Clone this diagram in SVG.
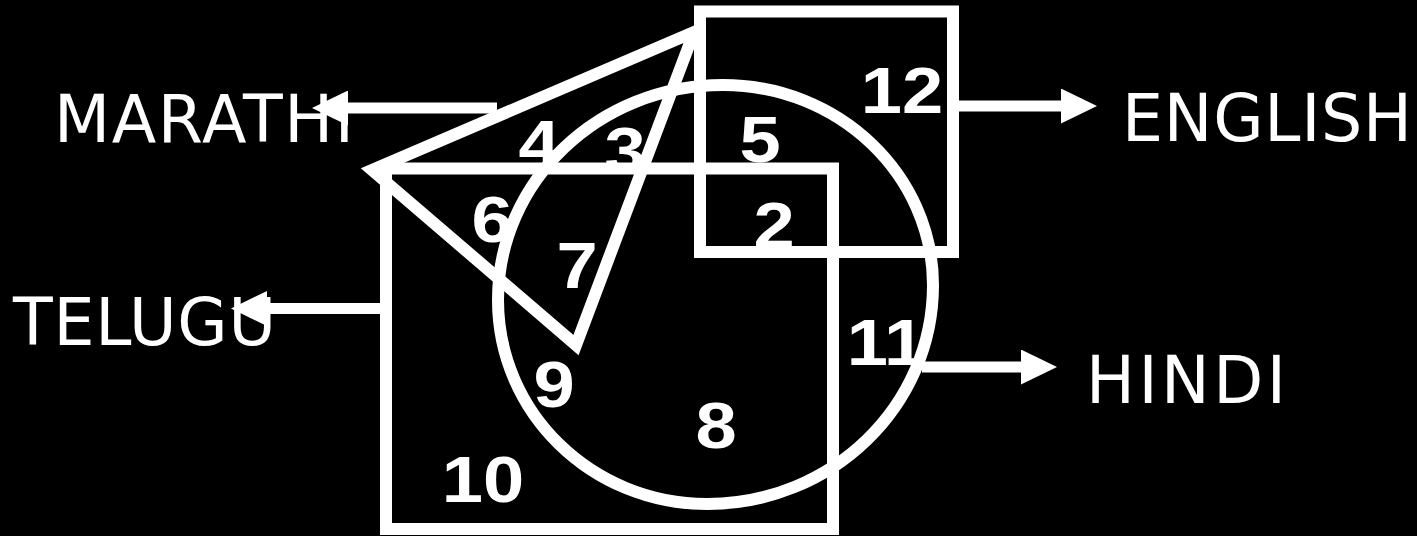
<svg xmlns="http://www.w3.org/2000/svg" width="1417" height="536" viewBox="0 0 1417 536">
  <style>
    .shape { fill: none; stroke: #ffffff; stroke-width: 12; stroke-linejoin: miter; stroke-miterlimit: 10; }
    .conn { stroke: #ffffff; stroke-width: 11; stroke-linecap: butt; fill: none; }
    .label { font-family: "DejaVu Sans", Verdana, sans-serif; font-size: 65px; fill: #ffffff; }
    .num { font-family: "Liberation Sans", Arial, sans-serif; font-weight: bold; font-size: 65px; fill: #ffffff; text-anchor: middle; }
  </style>
  <defs>
    <marker id="head" markerUnits="userSpaceOnUse" markerWidth="36" markerHeight="35" viewBox="0 0 36 35" refX="0" refY="17.5" orient="auto">
      <path d="M0,0 L36,17.5 L0,35 Z" fill="#ffffff"/>
    </marker>
  </defs>
  <rect x="0" y="0" width="1417" height="536" fill="#000000"/>

  <g id="english">
    <rect class="shape" x="700" y="11.5" width="253" height="240.5"/>
  </g>
  <g id="hindi">
    <path class="shape" d="M723,85 C839,85 933,175 933,285 C933,406 832,504 707,504 C592,504 498,413 498,300 C498,181 599,85 723,85 Z"/>
  </g>
  <g id="telugu">
    <rect class="shape" x="386" y="168.5" width="447" height="360.5"/>
  </g>
  <g id="marathi">
    <polygon class="shape" points="372,170 694,32 576,345"/>
  </g>

  <g id="connectors">
    <line class="conn" x1="959" y1="106" x2="1061" y2="106" marker-end="url(#head)"/>
    <line class="conn" x1="922" y1="367" x2="1021" y2="367" marker-end="url(#head)"/>
    <line class="conn" x1="497" y1="108" x2="348" y2="108" marker-end="url(#head)"/>
    <line class="conn" x1="380" y1="308.5" x2="267" y2="308.5" marker-end="url(#head)"/>
  </g>

  <g id="labels">
    <text class="label" x="54" y="142" textLength="300">MARATHI</text>
    <text class="label" x="13" y="345" textLength="263">TELUGU</text>
    <text class="label" x="1122" y="141" textLength="290">ENGLISH</text>
    <text class="label" x="1086" y="403" textLength="200">HINDI</text>
  </g>

  <g id="region-numbers">
    <text class="num" transform="translate(902,113) scale(1.14,1)">12</text>
    <text class="num" transform="translate(760,162) scale(1.14,1)">5</text>
    <text class="num" transform="translate(774,248) scale(1.14,1)">2</text>
    <text class="num" transform="translate(539,166) scale(1.14,1)">4</text>
    <text class="num" transform="translate(625,173) scale(1.14,1)">3</text>
    <text class="num" transform="translate(492,242) scale(1.14,1)">6</text>
    <text class="num" transform="translate(577,288) scale(1.14,1)">7</text>
    <text class="num" transform="translate(554,407) scale(1.14,1)">9</text>
    <text class="num" transform="translate(716,448) scale(1.14,1)">8</text>
    <text class="num" transform="translate(483,502) scale(1.14,1)">10</text>
    <text class="num" transform="translate(886,365) scale(1.14,1)">11</text>
  </g>
</svg>
